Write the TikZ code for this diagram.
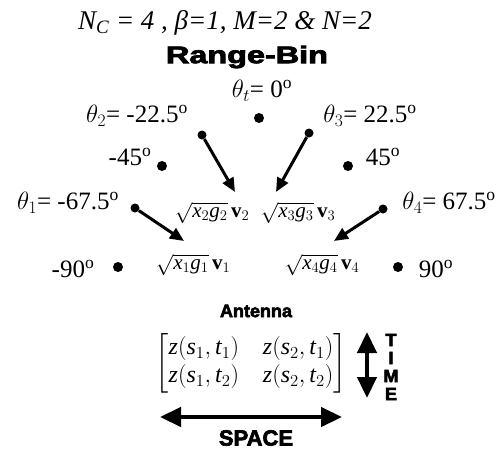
\RequirePackage{fix-cm}
\documentclass[tikz,border=0pt]{standalone}
\usepackage{amsmath}
\usepackage{fontspec}
\setmainfont{Liberation Serif}
\newfontfamily\heavy{Liberation Sans Bold}[FakeBold=3]
\usetikzlibrary{arrows.meta}
\tikzset{
  angdot/.style={circle,fill,inner sep=0pt,minimum size=10pt},
  tipball/.style={circle,fill,inner sep=0pt,minimum size=9pt},
  bigarrow/.style={line width=3pt,-{Triangle[length=14pt,width=12pt]}},
  dblarrow/.style={line width=4.5pt,{Triangle[length=21pt,width=19pt]}-{Triangle[length=21pt,width=19pt]}},
  ang/.style={inner sep=0pt,font=\fontsize{25}{28}\selectfont},
  vec/.style={inner sep=0pt,font=\fontsize{21}{24}\selectfont},
  hv/.style={inner sep=0pt,font=\heavy\fontsize{#1}{#1}\selectfont}
}
\newcommand{\sig}[1]{$\sqrt{\mathit{x}_{#1}\mathit{g}_{#1}}\,\mathbf{v}_{#1}$}
\newcommand{\zst}[2]{\mathit{z}(\mathit{s}_{#1},\mathit{t}_{#2})}
\begin{document}
\begin{tikzpicture}[x=1pt,y=-1pt]
\useasboundingbox (0,0) rectangle (499,453);
\node[inner sep=0pt,font=\fontsize{27}{30}\selectfont\itshape] (title) at (225,23) {N\textsubscript{C} = 4 , β=1, M=2 \& N=2};
\node[hv=24,xscale=1.35] (rb) at (247,57) {Range-Bin};
\node[ang] (lt) at (262,91) {$\theta_t$= 0\textsuperscript{o}};
\node[ang] (l2) at (137,116) {$\theta_2$= -22.5\textsuperscript{o}};
\node[ang] (l3) at (370,116) {$\theta_3$= 22.5\textsuperscript{o}};
\node[ang] (m45) at (130,157) {-45\textsuperscript{o}};
\node[ang] (p45) at (383,157) {45\textsuperscript{o}};
\node[ang] (l1) at (68,203) {$\theta_1$= -67.5\textsuperscript{o}};
\node[ang] (l4) at (449,203) {$\theta_4$= 67.5\textsuperscript{o}};
\node[ang] (m90) at (73,269) {-90\textsuperscript{o}};
\node[ang] (p90) at (436,269) {90\textsuperscript{o}};
\foreach \n/\x/\y in {d0/259/118,dm45/162/166,d45/348/166,dm90/118/267,d90/398/267}
  \node[angdot] (\n) at (\x,\y) {};
\foreach \n/\x/\y in {b1/135/208,b2/202/135,b3/309/133,b4/383/209}
  \node[tipball] (\n) at (\x,\y) {};
\node[vec] (v1) at (193,265) {\sig{1}};
\node[vec] (v2) at (212,213) {\sig{2}};
\node[vec] (v3) at (298,213) {\sig{3}};
\node[vec] (v4) at (322,265) {\sig{4}};
\coordinate (t1) at (184,241);
\coordinate (t2) at (235,192);
\coordinate (t3) at (276,192);
\coordinate (t4) at (334,241);
\foreach \i in {1,2,3,4}
  \draw[bigarrow] (b\i) -- (t\i);
\node[hv=18] (ant) at (256,311) {Antenna};
\node[inner sep=0pt,font=\fontsize{24}{28}\selectfont] (mat) at (251,363)
  {$\begin{bmatrix} \zst{1}{1} & \hspace{14pt}\zst{2}{1}\\ \zst{1}{2} & \hspace{14pt}\zst{2}{2}\end{bmatrix}$};
\coordinate (tt) at (367,332);
\coordinate (tb) at (367,398);
\draw[dblarrow] (tt) -- (tb);
\node[align=center,inner sep=0pt,font=\heavy\fontsize{18}{18}\selectfont] (time) at (391,367) {T\\I\\M\\E};
\coordinate (sl) at (160,417);
\coordinate (sr) at (342,417);
\draw[dblarrow] (sl) -- (sr);
\node[hv=22] (space) at (256,438) {SPACE};
\end{tikzpicture}
\end{document}
